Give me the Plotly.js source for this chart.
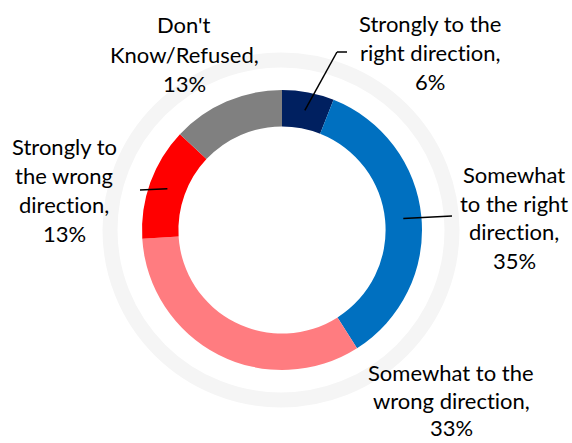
<!DOCTYPE html>
<html>
<head>
<meta charset="utf-8">
<script src="https://cdn.plot.ly/plotly-3.0.1.min.js"></script>
<style>
html,body{margin:0;padding:0;background:#fff;}
#chart{width:572px;height:443px;}
svg text{font-variant-ligatures:none !important;font-feature-settings:"liga" 0, "clig" 0 !important;}
</style>
</head>
<body>
<div id="chart"></div>
<script>
// ---- data ----
const categories = ["Strongly to the right direction", "Somewhat to the right direction", "Somewhat to the wrong direction", "Strongly to the wrong direction", "Don't Know/Refused"];
const values = [6, 35, 33, 13, 13];
const colors = ["#002060", "#0070C0", "#FF7C80", "#FF0000", "#808080"];
// label text split into lines (value appended as last line)
const labelLines = [
  ["Strongly to the", "right direction,"],
  ["Somewhat", "to the right", "direction,"],
  ["Somewhat to the", "wrong direction,"],
  ["Strongly to", "the wrong", "direction,"],
  ["Don't", "Know/Refused,"]
];

// ---- layout positions (pixels) ----
const W = 572, H = 443;
const cx = 282, cy = 230, R = 140, hole = 0.74;
const labelPos = [ // center x, first baseline y, line gap
  [430, 32, 29], [514, 183, 28.5], [451, 381, 27.5], [64, 155, 29], [184, 33, 29.5]
];
const hasLeader = [true, true, false, true, false];
const leaderEnd = [[[337, 52], [347, 52]], [[452, 216]], null, [[140, 190]], null];
const fontSize = 22;
const fontFamily = "Lato, 'Noto Sans', sans-serif";

const px = x => x / W;
const py = y => 1 - y / H;

const annotations = [];
labelLines.forEach((lines, i) => {
  const all = lines.concat([values[i] + "%"]);
  all.forEach((t, k) => {
    const base = labelPos[i][1] + k * labelPos[i][2];
    annotations.push({
      xref: 'paper', yref: 'paper', x: px(labelPos[i][0]), y: py(base - 0.38 * fontSize),
      xanchor: 'center', yanchor: 'middle', showarrow: false, text: t,
      font: {family: fontFamily, size: fontSize, color: '#000'}
    });
  });
});

// leader lines start at mid-angle of each slice, mid ring radius
const total = values.reduce((a, b) => a + b, 0);
const shapes = [{
  type: 'circle', xref: 'paper', yref: 'paper', layer: 'below',
  x0: px(281 - 171), x1: px(281 + 171), y0: py(230 + 170), y1: py(230 - 170),
  line: {color: '#F5F5F5', width: 15}, fillcolor: 'rgba(0,0,0,0)'
}];
let cum = 0;
values.forEach((v, i) => {
  const mid = (cum + v / 2) / total * 2 * Math.PI;
  cum += v;
  if (!hasLeader[i]) return;
  const r = R * (1 + hole) / 2;
  const sx = cx + r * Math.sin(mid), sy = cy - r * Math.cos(mid);
  const pts = [[sx, sy]].concat(leaderEnd[i]);
  for (let k = 0; k < pts.length - 1; k++) {
    shapes.push({type: 'line', xref: 'paper', yref: 'paper', layer: 'above',
      x0: px(pts[k][0]), y0: py(pts[k][1]), x1: px(pts[k+1][0]), y1: py(pts[k+1][1]),
      line: {color: '#000', width: 1.5}});
  }
});

const trace = {
  type: 'pie', labels: categories, values: values, hole: hole, sort: false,
  direction: 'clockwise', rotation: 0, textinfo: 'none', hoverinfo: 'label+percent',
  marker: {colors: colors, line: {width: 0}},
  domain: {x: [px(cx - R), px(cx + R)], y: [py(cy + R), py(cy - R)]},
  showlegend: false
};

Plotly.newPlot('chart', [trace], {
  width: W, height: H, margin: {l: 0, r: 0, t: 0, b: 0},
  paper_bgcolor: '#fff', plot_bgcolor: '#fff',
  showlegend: false, annotations: annotations, shapes: shapes
}, {staticPlot: true, displayModeBar: false});
</script>
</body>
</html>
